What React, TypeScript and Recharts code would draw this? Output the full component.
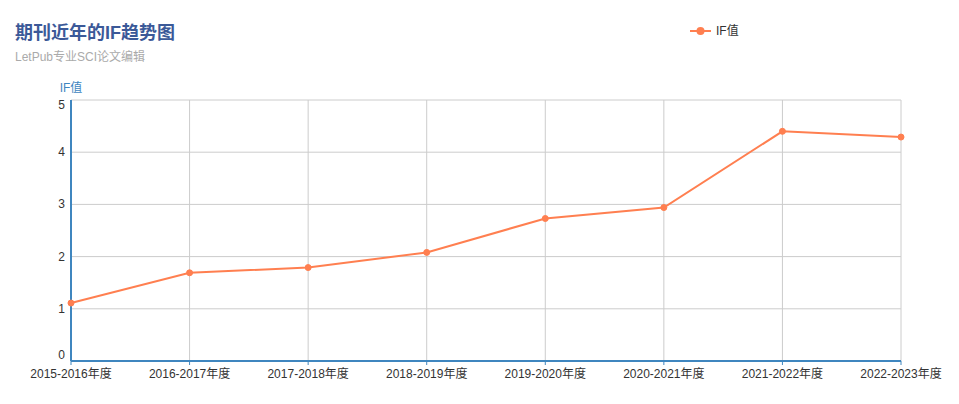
import { CartesianGrid, Line, LineChart, XAxis, YAxis } from "recharts";

// IF trend by year
const years = [
  "2015-2016年度",
  "2016-2017年度",
  "2017-2018年度",
  "2018-2019年度",
  "2019-2020年度",
  "2020-2021年度",
  "2021-2022年度",
  "2022-2023年度",
];
const ifValues = [1.11, 1.69, 1.79, 2.08, 2.73, 2.94, 4.4, 4.29];
const yTicks = [0, 1, 2, 3, 4, 5];

const data = years.map((year, i) => ({ year, value: ifValues[i] }));

const FONT = '"Liberation Sans", Arial, "Noto Sans CJK SC", sans-serif';
const AXIS_BLUE = "#3f86bf";
const LINE_COLOR = "#ff7f50";

const YTick = (props: any) => {
  const { x, y, payload } = props;
  // keep top/bottom labels inside the plot like the original
  let dy = 4;
  if (payload.value === 5) dy = 9;
  if (payload.value === 0) dy = -2;
  return (
    <text x={x} y={y + dy} textAnchor="end" fontSize={12} fill="#333" fontFamily={FONT}>
      {payload.value}
    </text>
  );
};

export default function App() {
  return (
    <div style={{ position: "absolute", left: 0, top: 0, width: 959, height: 404, background: "#fff" }}>
      <div
        style={{
          position: "absolute",
          left: 15,
          top: 22,
          fontFamily: FONT,
          fontSize: 18,
          fontWeight: "bold",
          color: "#3b5998",
          lineHeight: "22px",
        }}
      >
        期刊近年的IF趋势图
      </div>
      <div
        style={{
          position: "absolute",
          left: 15,
          top: 50,
          fontFamily: FONT,
          fontSize: 12,
          color: "#aaa",
          lineHeight: "14px",
        }}
      >
        LetPub专业SCI论文编辑
      </div>
      {/* legend */}
      <div
        style={{
          position: "absolute",
          left: 689,
          top: 23,
          display: "flex",
          alignItems: "center",
          fontFamily: FONT,
          fontSize: 12,
          color: "#333",
          lineHeight: "16px",
        }}
      >
        <svg width={24} height={10} style={{ marginRight: 3 }}>
          <line x1={1} y1={5} x2={22} y2={5} stroke={LINE_COLOR} strokeWidth={2} />
          <circle cx={11.5} cy={5} r={4} fill={LINE_COLOR} />
        </svg>
        <span>IF值</span>
      </div>
      <LineChart width={959} height={404} data={data} margin={{ top: 100, right: 58, bottom: 13, left: 51 }}>
        <CartesianGrid stroke="#ccc" strokeWidth={1} />
        <XAxis
          dataKey="year"
          interval={0}
          height={30}
          axisLine={{ stroke: AXIS_BLUE, strokeWidth: 2 }}
          tickLine={{ stroke: AXIS_BLUE }}
          tickSize={4}
          tickMargin={4}
          tick={{ fill: "#333", fontSize: 12, fontFamily: FONT }}
        />
        <YAxis
          width={20}
          domain={[0, 5]}
          ticks={yTicks}
          axisLine={{ stroke: AXIS_BLUE, strokeWidth: 2 }}
          tickLine={false}
          tickMargin={0}
          tick={<YTick />}
          label={({ viewBox }: any) => (
            <text
              x={viewBox.x + viewBox.width}
              y={viewBox.y - 8}
              textAnchor="middle"
              fontSize={12}
              fill={AXIS_BLUE}
              fontFamily={FONT}
            >
              IF值
            </text>
          )}
        />
        <Line
          type="linear"
          dataKey="value"
          name="IF值"
          stroke={LINE_COLOR}
          strokeWidth={2}
          dot={{ r: 3, fill: LINE_COLOR, stroke: LINE_COLOR, strokeWidth: 1 }}
          activeDot={false}
          isAnimationActive={false}
        />
      </LineChart>
    </div>
  );
}
